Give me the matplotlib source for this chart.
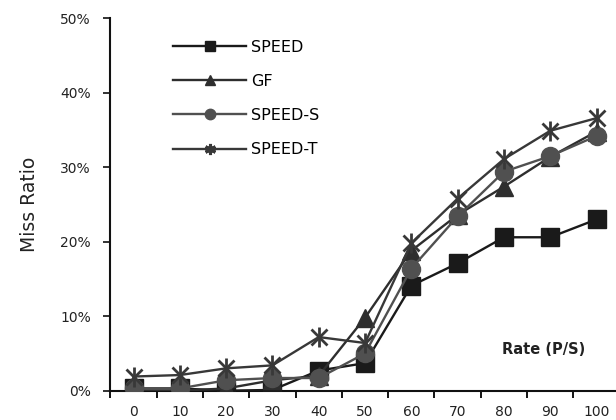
import numpy as np
import matplotlib
matplotlib.use('Agg')
import matplotlib.pyplot as plt
from matplotlib.ticker import FuncFormatter

plt.rcParams['font.family'] = ['DejaVu Sans']

### Data ###
rates = ['0', '10', '20', '30', '40', '50', '60', '70', '80', '90', '100']
speed = [0.3, 0.3, 0.0, 0.1, 2.7, 3.7, 14.1, 17.1, 20.6, 20.6, 23.0]
gf = [0.0, 0.0, 0.3, 1.4, 2.0, 9.8, 18.8, 23.6, 27.4, 31.4, 34.8]
speed_s = [0.3, 0.3, 1.4, 1.7, 1.7, 5.0, 16.4, 23.4, 29.4, 31.5, 34.2]
speed_t = [1.9, 2.1, 3.0, 3.4, 7.2, 6.4, 19.8, 25.8, 31.1, 34.9, 36.6]
labels = ['SPEED', 'GF', 'SPEED-S', 'SPEED-T']

### Figure ###
fig = plt.figure(figsize = (616 / 100, 420 / 100), dpi = 100)
ax = fig.add_axes([0.1792, 0.0698, 0.8268, 0.8866])

x = np.arange(len(rates))
series = [
    (speed, 's', '#1a1a1a', 12.5),
    (gf, '^', '#2e2e2e', 12.5),
    (speed_s, 'o', '#505050', 13),
    (speed_t, None, '#383838', 0),
]

handles = []
for (vals, mk, col, ms), lbl in zip(series, labels):
    y = np.array(vals) / 100
    if mk is None:
        # asterisk style marker: x + bar overlaid
        ax.plot(x, y, color = col, lw = 1.7, zorder = 3)
        ax.plot(x, y, ls = 'none', marker = 'x', ms = 11, mew = 2, color = col, zorder = 4)
        ax.plot(x, y, ls = 'none', marker = '|', ms = 15, mew = 2, color = col, zorder = 4)
        h, = ax.plot([], [], color = col, lw = 1.7, marker = (6, 2, 0), ms = 8, mew = 2.2)
    else:
        ax.plot(x, y, color = col, lw = 1.7, marker = mk, ms = ms, mec = col, mfc = col, zorder = 3)
        h, = ax.plot([], [], color = col, lw = 1.7, marker = mk, ms = 7.5, mec = col, mfc = col)
    handles.append(h)

ax.set_xlim(-0.5, 10.5)
ax.set_ylim(0, 0.5)

ax.set_xticks(x)
ax.set_xticklabels(rates)
ax.set_xticks(np.arange(-0.5, 11, 1), minor = True)
ax.tick_params(axis = 'x', which = 'major', length = 0, labelsize = 10, pad = 10.5, colors = '#222222')
ax.tick_params(axis = 'x', which = 'minor', length = 5, width = 1.3, direction = 'out')

ax.set_yticks(np.arange(0, 0.51, 0.1))
ax.yaxis.set_major_formatter(FuncFormatter(lambda v, p: f'{v * 100:.0f}%'))
ax.tick_params(axis = 'y', length = 5, width = 1.3, labelsize = 10, pad = 9, colors = '#222222')

for s in ['top', 'right']:
    ax.spines[s].set_visible(False)
for s in ['left', 'bottom']:
    ax.spines[s].set_linewidth(1.5)
    ax.spines[s].set_color('#111111')

ax.set_ylabel('Miss Ratio', fontsize = 13.5, labelpad = 15, color = '#222222')
ax.text(8.85, 0.055, 'Rate (P/S)', fontsize = 10.5, fontweight = 'bold', ha = 'center', va = 'center', color = '#222222')

ax.legend(
    handles, labels,
    loc = 'upper left', bbox_to_anchor = (0.11, 0.96),
    frameon = False, fontsize = 11.5, handlelength = 4.6,
    labelspacing = 1.2, handletextpad = 0.3, borderaxespad = 0,
)

fig.savefig('out.png', dpi = 100)
